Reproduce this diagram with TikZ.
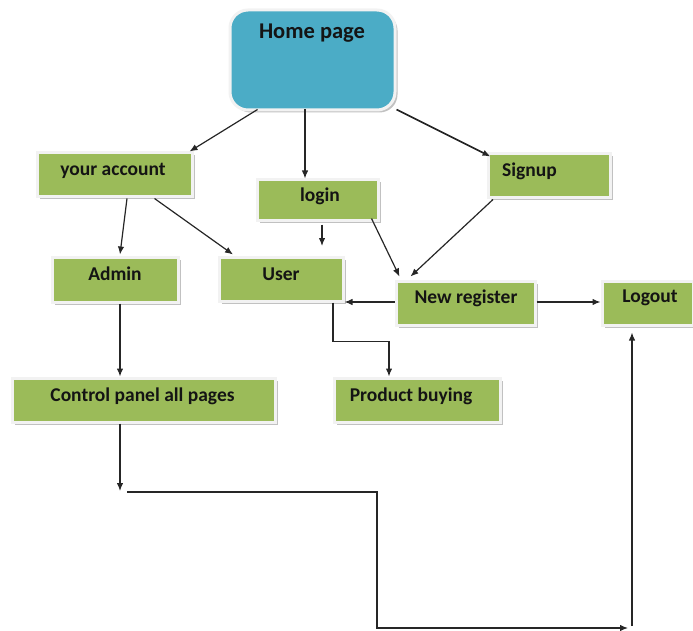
\documentclass[tikz,border=0pt]{standalone}
\usepackage{fontspec}
\setmainfont{Carlito}
\usetikzlibrary{arrows.meta,shadows,calc}
\definecolor{boxgreen}{HTML}{9BBB59}
\definecolor{homeblue}{HTML}{4BACC6}
\definecolor{rim}{HTML}{F2F2F2}
\definecolor{txt}{HTML}{141414}
\tikzset{
  box/.style={draw=rim, line width=3pt, fill=boxgreen, inner sep=0pt,
    drop shadow={shadow xshift=2.5pt, shadow yshift=-2.5pt, fill=black!30, opacity=0.8}},
  homebox/.style={draw=rim, line width=3pt, fill=homeblue, rounded corners=18pt, inner sep=0pt,
    drop shadow={shadow xshift=2.5pt, shadow yshift=-2.5pt, fill=black!30, opacity=0.8}},
  lbl/.style={font=\bfseries\fontsize{19.5}{21}\selectfont, text=txt, inner sep=0pt},
  conn/.style={draw=black!85, line width=1.2pt, -{Latex[length=8pt,width=6.5pt]}},
}
\begin{document}
\begin{tikzpicture}[x=1pt,y=-1pt]
\useasboundingbox (0,0) rectangle (693,631);
% boxes
\node[homebox, minimum width=165pt, minimum height=100pt] (home) at (312.5,60) {};
\node[box, minimum width=155pt, minimum height=44pt] (acct) at (114.5,175) {};
\node[box, minimum width=121pt, minimum height=40pt] (login) at (317.5,200) {};
\node[box, minimum width=122pt, minimum height=44pt] (signup) at (549,176) {};
\node[box, minimum width=126pt, minimum height=45pt] (admin) at (115,279.5) {};
\node[box, minimum width=124pt, minimum height=44pt] (user) at (281,279) {};
\node[box, minimum width=139pt, minimum height=44pt] (newreg) at (465.5,303) {};
\node[box, minimum width=91pt, minimum height=44pt] (logout) at (647.5,303) {};
\node[box, minimum width=263pt, minimum height=44pt] (cp) at (143.5,400) {};
\node[box, minimum width=166pt, minimum height=44pt] (prod) at (417,400) {};
% labels
\node[lbl, font=\bfseries\fontsize{22.5}{24}\selectfont] (homet) at (312,33) {Home page};
\node[lbl] (acctt) at (113,171) {your account};
\node[lbl] (logint) at (320,196) {login};
\node[lbl] (signupt) at (529.5,171) {Signup};
\node[lbl] (admint) at (115,274) {Admin};
\node[lbl] (usert) at (281,274) {User};
\node[lbl] (newregt) at (466,298) {New register};
\node[lbl] (logoutt) at (650,298) {Logout};
\node[lbl] (cpt) at (142.5,396) {Control panel all pages};
\node[lbl] (prodt) at (411,396) {Product buying};
% free coordinates
\coordinate (c1) at (322,246);
\coordinate (c2) at (120,491);
\coordinate (c3) at (127,492);
\coordinate (c4) at (628,628);
\coordinate (c5) at (632,626);
% connectors
\draw[conn] ([xshift=-55pt,yshift=2pt]home.south) -- ([xshift=75pt]acct.north);
\draw[conn] ([xshift=-7.5pt,yshift=2pt]home.south) -- ([xshift=-12.5pt]login.north);
\draw[conn, line width=1.6pt] ([yshift=2pt]home.south east) -- ([xshift=4pt,yshift=-4pt]signup.north west);
\draw[conn] ([xshift=12.5pt]acct.south) -- ([xshift=5pt,yshift=1pt]admin.north);
\draw[conn] ([xshift=40pt]acct.south) -- ([xshift=-48pt,yshift=1pt]user.north);
\draw[conn] ([xshift=4.5pt,yshift=-3pt]login.south) -- (c1);
\draw[conn] ([xshift=54pt,yshift=3pt]login.south) -- ([xshift=-66pt,yshift=3pt]newreg.north);
\draw[conn] ([xshift=-56pt]signup.south) -- ([xshift=-55pt,yshift=3pt]newreg.north);
\draw[conn] ([yshift=1pt]newreg.west) -- ([yshift=1pt]newreg.west -| user.east);
\draw[conn] ([yshift=1pt]newreg.east) -- ([yshift=1pt]logout.west);
\draw[conn] ([xshift=52pt]user.south) -- ++(0,39) -| ([xshift=-28pt]prod.north);
\draw[conn] ([xshift=5pt]admin.south) -- ([xshift=-23.5pt]cp.north);
\draw[conn] ([xshift=-23.5pt]cp.south) -- (c2);
\draw[conn] (c3) -- ++(250,0) |- (c4);
\draw[conn] (c5) -- ([xshift=-15.5pt,yshift=-6pt]logout.south);
\end{tikzpicture}
\end{document}
